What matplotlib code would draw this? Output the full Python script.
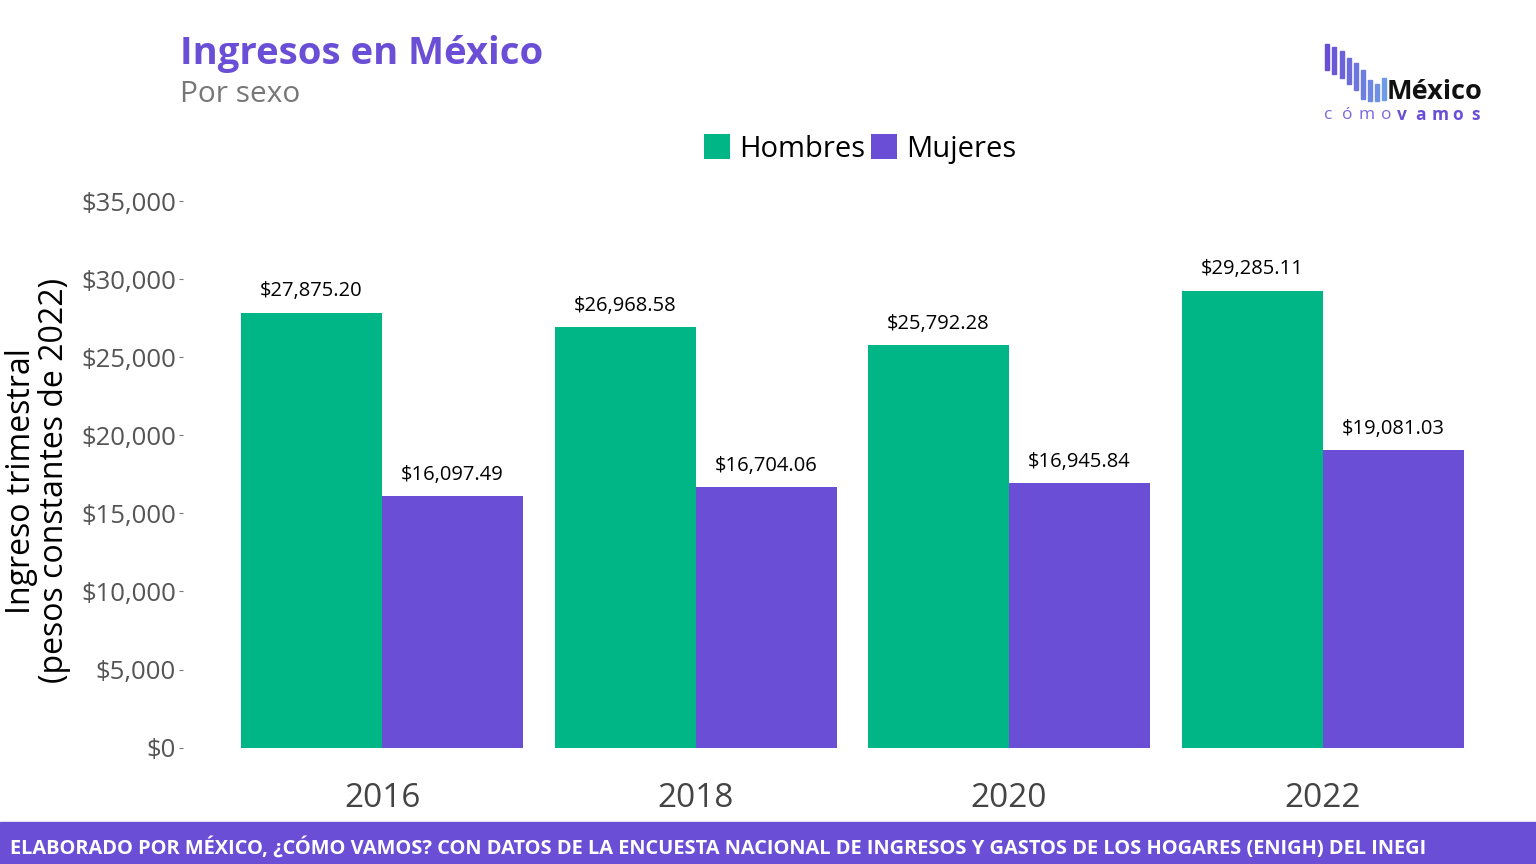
import numpy as np
import matplotlib.pyplot as plt
from matplotlib.patches import Rectangle

# datos
years = ["2016", "2018", "2020", "2022"]
hombres = [27875.20, 26968.58, 25792.28, 29285.11]
mujeres = [16097.49, 16704.06, 16945.84, 19081.03]
yticks = [0, 5000, 10000, 15000, 20000, 25000, 30000, 35000]

verde = "#00B686"
morado = "#6A4FD6"

plt.rcParams['font.family'] = ['Open Sans', 'DejaVu Sans']

W, H = 1536, 864
fig = plt.figure(figsize=(W / 100, H / 100), dpi=100)
fig.patch.set_facecolor("white")

# ejes en pixeles
ax_l, ax_r, ax_t, ax_b = 183, 1490, 178, 760
ax = fig.add_axes([ax_l / W, (H - ax_b) / H, (ax_r - ax_l) / W, (ax_b - ax_t) / H])

x = np.arange(len(years))
w = 0.45
ax.bar(x - w / 2, hombres, width=w, color=verde, label="Hombres")
ax.bar(x + w / 2, mujeres, width=w, color=morado, label="Mujeres")

for xi, v in zip(x, hombres):
    ax.annotate(f"${v:,.2f}", (xi - w / 2, v), xytext=(0, 8), textcoords="offset points",
                ha="center", va="bottom", fontsize=14.5, color="black")
for xi, v in zip(x, mujeres):
    ax.annotate(f"${v:,.2f}", (xi + w / 2, v), xytext=(0, 8), textcoords="offset points",
                ha="center", va="bottom", fontsize=14.5, color="black")

ax.set_xlim(-0.635, 3.534)
ax.set_ylim(-800, 36500)
ax.set_xticks(x)
ax.set_xticklabels(years, fontsize=24, color="#444444")
ax.set_yticks(yticks)
ax.set_yticklabels([f"${t:,}" for t in yticks], fontsize=18.5, color="#555555")
ax.tick_params(axis="y", length=3, width=0.8, color="#777777", pad=2)
ax.tick_params(axis="x", length=0, pad=16)
for s in ax.spines.values():
    s.set_visible(False)
ax.set_ylabel("Ingreso trimestral\n(pesos constantes de 2022)", fontsize=23,
              color="black", linespacing=1.0)
ax.yaxis.set_label_coords(-0.086, 0.48)

leg = fig.legend(loc="center", bbox_to_anchor=(860 / W, (H - 149) / H), ncol=2,
                 frameon=False, fontsize=21, handlelength=0.9, handleheight=0.9,
                 handletextpad=0.3, columnspacing=0.2)

# titulo
fig.text(180 / W, (H - 54) / H, "Ingresos en México", fontsize=27.5, fontweight="bold",
         color=morado, ha="left", va="center")
fig.text(180 / W, (H - 95) / H, "Por sexo", fontsize=21.5, color="#777777",
         ha="left", va="center")

# logo
logo_x = [1325, 1332, 1340, 1347, 1354, 1361, 1368, 1375, 1382]
logo_top = [44, 47, 51, 58, 63, 70, 80, 84, 78]
logo_bot = [70, 74, 78, 84, 90, 99, 101, 101, 100]
cols = plt.matplotlib.colors.LinearSegmentedColormap.from_list("g", [morado, "#6F9AE6"])
for i, (lx, lt, lb) in enumerate(zip(logo_x, logo_top, logo_bot)):
    fig.patches.append(Rectangle((lx / W, (H - lb) / H), 3.5 / W, (lb - lt) / H,
                                 transform=fig.transFigure, color=cols(i / 8), zorder=5))
fig.text(1387 / W, (H - 92) / H, "México", fontsize=19.5, fontweight="bold",
         color="#111111", ha="left", va="center")
for ch, cx in zip("cómo", [1328, 1347, 1367, 1386]):
    fig.text(cx / W, (H - 115) / H, ch, fontsize=12.5, color="#7B68E0",
             ha="center", va="center")
for ch, cx in zip("vamos", [1402, 1421, 1440, 1458, 1476]):
    fig.text(cx / W, (H - 115) / H, ch, fontsize=12.5, fontweight="bold",
             color=morado, ha="center", va="center")

# pie
fig.patches.append(Rectangle((0, 0), 1, 42 / H, transform=fig.transFigure,
                             color=morado, zorder=1))
fig.text(10 / W, 16 / H,
         "ELABORADO POR MÉXICO, ¿CÓMO VAMOS? CON DATOS DE LA ENCUESTA NACIONAL DE INGRESOS Y GASTOS DE LOS HOGARES (ENIGH) DEL INEGI",
         fontsize=14.4, fontweight="bold", color="white", ha="left", va="center",
         zorder=2)

fig.savefig("out.png", dpi=100)
